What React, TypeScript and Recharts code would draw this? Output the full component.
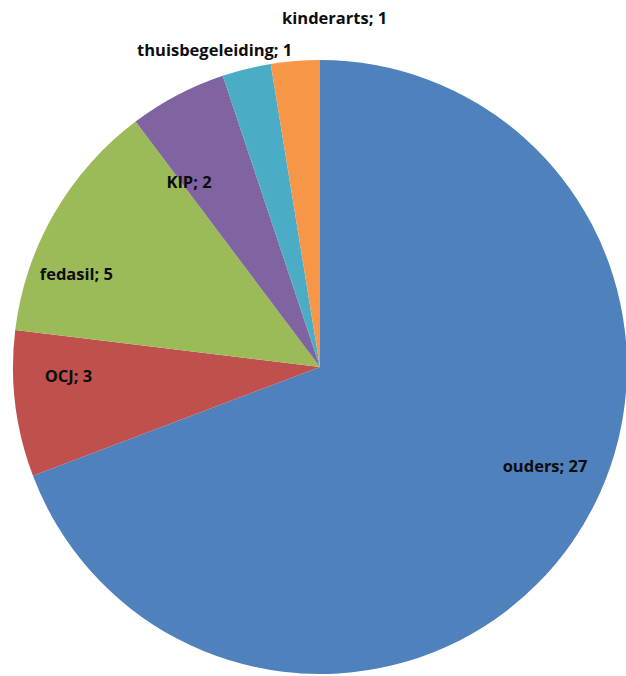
import { PieChart, Pie, Cell } from 'recharts';

const categories = ['ouders', 'OCJ', 'fedasil', 'KIP', 'thuisbegeleiding', 'kinderarts'];
const counts = [27, 3, 5, 2, 1, 1];
const colors = ['#4F81BD', '#C0504D', '#9BBB59', '#8064A2', '#4BACC6', '#F79646'];

const data = categories.map((name, i) => ({ name, value: counts[i] }));

// excel "best fit" label spots: angle shift (deg) and radius factor, per slice
const labelSpots = [
  { shift: 11, r: 0.8 },
  { shift: -5, r: 0.82 },
  { shift: 9, r: 0.85 },
  { shift: 7.5, r: 0.74 },
  { shift: 4.5, r: 1.09 },
  { shift: -7, r: 1.14 },
];

const RAD = Math.PI / 180;

const renderLabel = (props: any) => {
  const { cx, cy, midAngle, outerRadius, index, name, value } = props;
  const spot = labelSpots[index];
  const a = (midAngle + spot.shift) * RAD;
  const r = outerRadius * spot.r;
  const x = cx + r * Math.cos(a);
  const y = cy - r * Math.sin(a);
  return (
    <text
      x={x}
      y={y}
      textAnchor="middle"
      dominantBaseline="central"
      fill="#0d0d0d"
      fontSize={16.5}
      fontWeight="bold"
      fontFamily="'Open Sans', sans-serif"
    >
      {`${name}; ${value}`}
    </text>
  );
};

export default function App() {
  return (
    <div style={{ position: 'absolute', left: 0, top: 0, background: '#fff' }}>
      <PieChart width={626} height={676} margin={{ top: 0, right: 0, bottom: 0, left: 0 }}>
        <Pie
          data={data}
          dataKey="value"
          nameKey="name"
          cx={320}
          cy={367}
          outerRadius={307}
          startAngle={90}
          endAngle={-270}
          stroke="none"
          label={renderLabel}
          labelLine={false}
          isAnimationActive={false}
        >
          {data.map((d, i) => (
            <Cell key={d.name} fill={colors[i]} />
          ))}
        </Pie>
      </PieChart>
    </div>
  );
}
